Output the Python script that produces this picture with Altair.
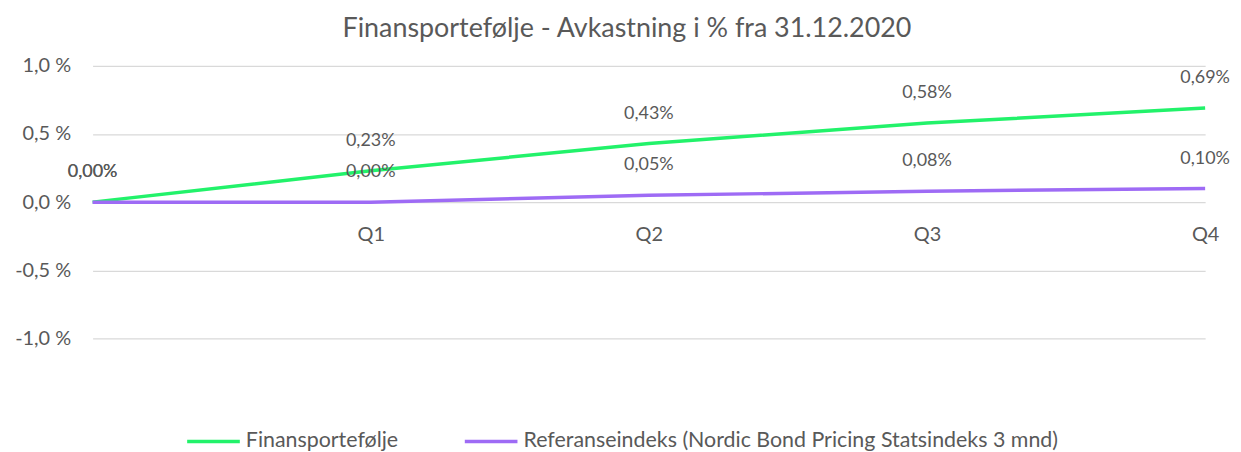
import altair as alt
import pandas as pd

periods = ["Start", "Q1", "Q2", "Q3", "Q4"]
series_names = ["Finansportefølje", "Referanseindeks (Nordic Bond Pricing Statsindeks 3 mnd)"]
portfolio = [0.00, 0.23, 0.43, 0.58, 0.69]
benchmark = [0.00, 0.00, 0.05, 0.08, 0.10]
colors = ["#22F26A", "#9E6BF5"]

rows = []
for name, vals in zip(series_names, [portfolio, benchmark]):
    for p, v in zip(periods, vals):
        rows.append({"period": p, "series": name, "value": v,
                     "label": f"{v:.2f}".replace(".", ",") + "%"})
df = pd.DataFrame(rows)

FONT = "Lato"
TXT = "#595959"

x = alt.X("period:N", sort=periods,
          scale=alt.Scale(type="point", padding=0),
          axis=alt.Axis(title=None, orient="bottom", offset=-137, domain=False, ticks=False,
                        grid=False, labelAngle=0, labelPadding=23, labelFontSize=20,
                        labelColor=TXT, labelFont=FONT,
                        labelExpr="datum.value == 'Start' ? '' : datum.value"))
y = alt.Y("value:Q", scale=alt.Scale(domain=[-1, 1], nice=False, zero=False),
          axis=alt.Axis(title=None, values=[-1, -0.5, 0, 0.5, 1], domain=False, ticks=False,
                        grid=True, gridColor="#D9D9D9", gridWidth=1.3,
                        labelFontSize=20, labelColor=TXT, labelFont=FONT, labelPadding=22,
                        labelExpr="(datum.value < 0 ? '-' : '') + replace(format(abs(datum.value), '.1f'), '.', ',') + ' %'"))
color = alt.Color("series:N", scale=alt.Scale(domain=series_names, range=colors),
                  legend=alt.Legend(title=None, orient="none", legendX=93, legendY=349,
                                    direction="horizontal", symbolType="stroke",
                                    symbolSize=2800, symbolStrokeWidth=3.5, padding=0,
                                    labelFontSize=21.5, labelFont=FONT, labelColor=TXT,
                                    columnPadding=59, labelOffset=4, labelLimit=800))

base = alt.Chart(df)
lines = base.mark_line(strokeWidth=3.5).encode(x=x, y=y, color=color)
labels = base.mark_text(dy=-30, fontSize=18, font=FONT, color=TXT).encode(
    x=alt.X("period:N", sort=periods), y="value:Q", text="label:N")

chart = alt.layer(lines, labels).properties(
    width=1118, height=274,
    padding={"left": 85, "top": 57, "right": 28, "bottom": 115},
    autosize=alt.AutoSizeParams(type="none"),
    title=alt.TitleParams("Finansportefølje - Avkastning i % fra 31.12.2020",
                          fontSize=27, font=FONT, color=TXT, fontWeight="normal",
                          anchor="middle", dx=-22, offset=13),
).configure_view(stroke=None)

chart.save("out.html", embed_options={"renderer": "svg", "actions": False})
